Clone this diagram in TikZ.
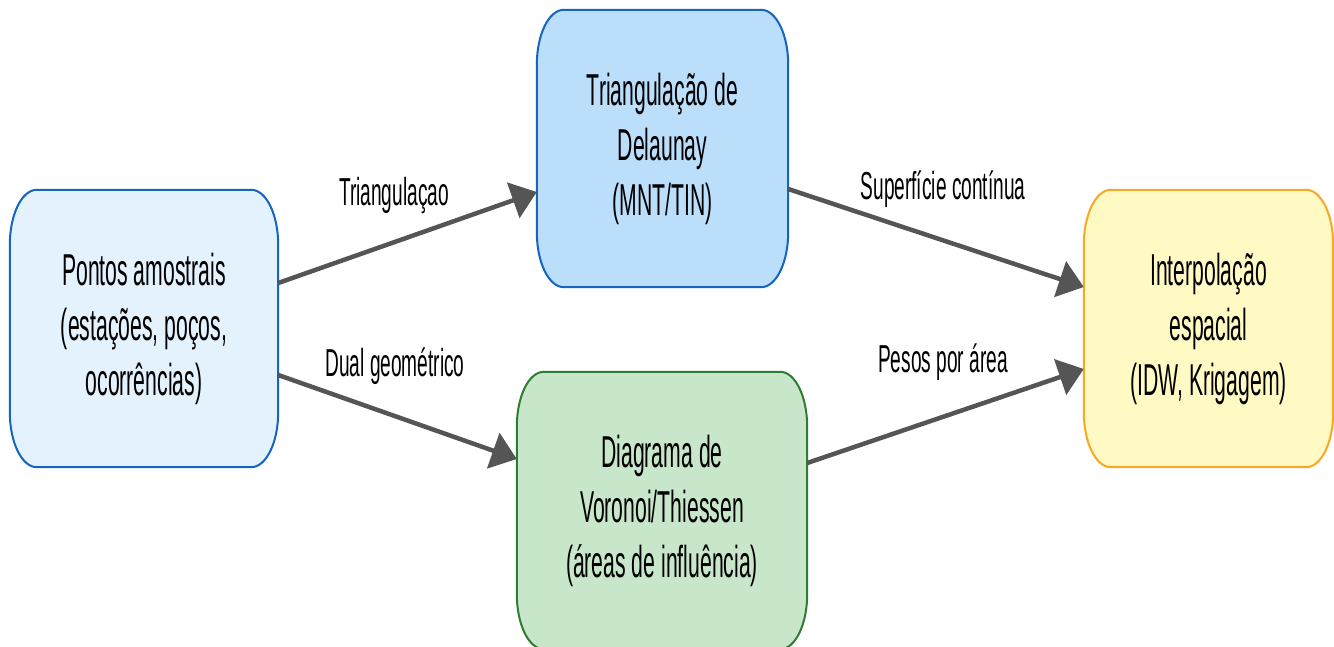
\documentclass[tikz,border=0pt]{standalone}
\usepackage{fontspec}
\setmainfont{Liberation Sans}
% narrow, tall lettering for boxes and edge labels
\newfontfamily\boxfont[FakeStretch=0.474]{Liberation Sans}
\newfontfamily\tagfont[FakeStretch=0.49]{Liberation Sans}
\usetikzlibrary{arrows.meta,backgrounds}

\definecolor{ptfill}{HTML}{E3F2FD}
\definecolor{ptline}{HTML}{1565C0}
\definecolor{dlfill}{HTML}{BBDEFB}
\definecolor{dlline}{HTML}{1565C0}
\definecolor{vrfill}{HTML}{C8E6C9}
\definecolor{vrline}{HTML}{2E7D32}
\definecolor{itfill}{HTML}{FFF9C4}
\definecolor{itline}{HTML}{F9A825}
\definecolor{arrowgray}{HTML}{555555}

% rounded frame with elliptical corners around a named node
\newcommand\ovalframe[3]{%
  \path[frame, fill=#2, draw=#3]
    ([xshift=27pt]#1.north west) -- ([xshift=-27pt]#1.north east)
    arc[start angle=90, end angle=0, x radius=27pt, y radius=55pt]
    -- ([yshift=55pt]#1.south east)
    arc[start angle=0, end angle=-90, x radius=27pt, y radius=55pt]
    -- ([xshift=27pt]#1.south west)
    arc[start angle=270, end angle=180, x radius=27pt, y radius=55pt]
    -- ([yshift=-55pt]#1.north west)
    arc[start angle=180, end angle=90, x radius=27pt, y radius=55pt]
    -- cycle;}

\begin{document}
\begin{tikzpicture}[x=1pt, y=1pt,
  box/.style={rectangle, inner sep=0pt, minimum height=277pt, align=center,
    font=\boxfont\fontsize{44.7}{55}\selectfont},
  frame/.style={line width=2pt},
  flow/.style={draw=arrowgray, line width=4.5pt,
    -{Triangle[length=25pt, width=37pt]}},
  tag/.style={anchor=base, inner sep=0pt,
    font=\tagfont\fontsize{39}{46}\selectfont}]

\useasboundingbox (0,0) rectangle (1334,646);
\clip (0,0) rectangle (1334,646);

% boxes
\node[box, minimum width=268pt] (pts) at (144,317.5)
  {Pontos amostrais\\(estações, poços,\\ocorrências)};
\node[box, minimum width=251pt] (del) at (662.5,497.5)
  {Triangulação de\\Delaunay\\(MNT/TIN)};
\node[box, minimum width=290pt] (vor) at (662,135.5)
  {Diagrama de\\Voronoi/Thiessen\\(áreas de influência)};
\node[box, minimum width=249pt] (itp) at (1208.5,317.5)
  {Interpolação\\espacial\\(IDW, Krigagem)};

\begin{scope}[on background layer]
  \ovalframe{pts}{ptfill}{ptline}
  \ovalframe{del}{dlfill}{dlline}
  \ovalframe{vor}{vrfill}{vrline}
  \ovalframe{itp}{itfill}{itline}
\end{scope}

% connectors
\draw[flow] ([yshift=45.5pt]pts.east) -- ([yshift=-43.5pt]del.west);
\draw[flow] ([yshift=-46.5pt]pts.east) -- ([yshift=51.5pt]vor.west);
\draw[flow] ([yshift=-40.5pt]del.east) -- ([yshift=41.5pt]itp.west);
\draw[flow] ([yshift=47.5pt]vor.east) -- ([yshift=-40.5pt]itp.west);

% connector labels
\node[tag] (lab1) at (394,440) {Triangulaçao};
\node[tag] (lab2) at (395,269) {Dual geométrico};
\node[tag] (lab3) at (943,446) {Superfície contínua};
\node[tag] (lab4) at (943,273) {Pesos por área};
\end{tikzpicture}
\end{document}
